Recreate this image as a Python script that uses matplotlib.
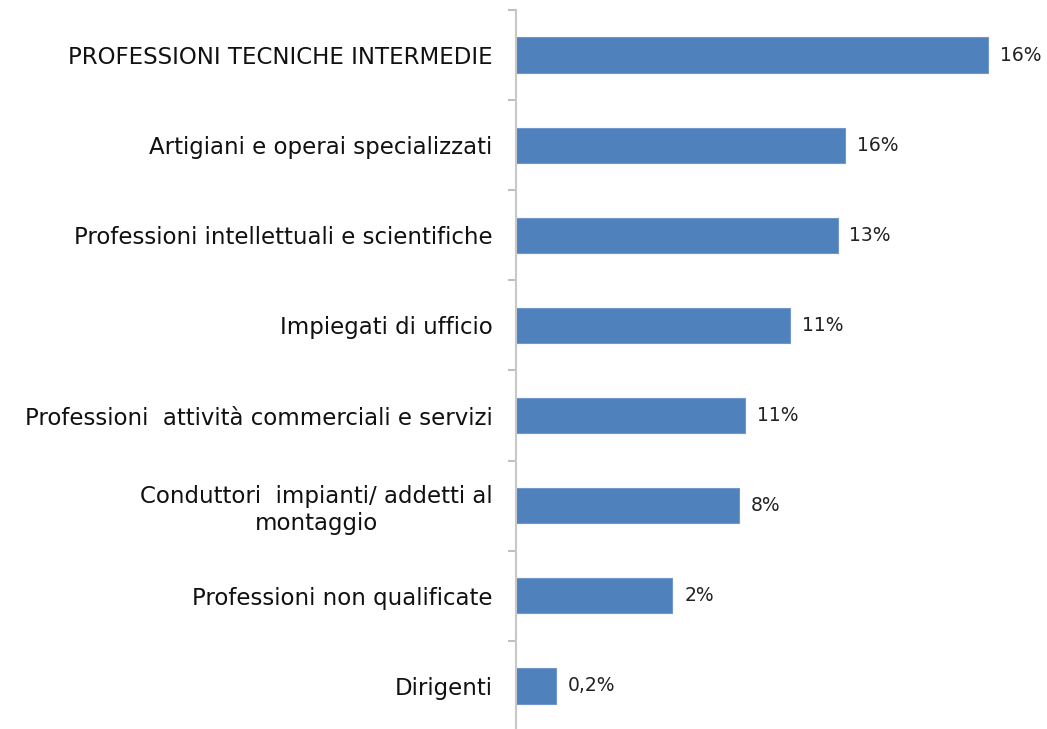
import matplotlib
matplotlib.use("Agg")
import matplotlib.pyplot as plt
import numpy as np

categories = [
    "PROFESSIONI TECNICHE INTERMEDIE",
    "Artigiani e operai specializzati",
    "Professioni intellettuali e scientifiche",
    "Impiegati di ufficio",
    "Professioni  attività commerciali e servizi",
    "Conduttori  impianti/ addetti al\nmontaggio",
    "Professioni non qualificate",
    "Dirigenti",
]
values = [15.85, 11.05, 10.8, 9.2, 7.7, 7.5, 5.25, 1.35]
value_labels = ["16%", "16%", "13%", "11%", "11%", "8%", "2%", "0,2%"]

plt.rcParams['font.family'] = ['DejaVu Sans']

fig = plt.figure(figsize=(10.47, 7.29), dpi=100)
ax = fig.add_axes([516/1047, 1 - 731/729, 524/1047, 721/729])

y = np.arange(len(categories))
ax.barh(y, values, height=0.39, color="#4f81bd", edgecolor="#6f97cc", linewidth=0.8)

for yi, v, lab in zip(y, values, value_labels):
    ax.text(v + 0.4, yi, lab, va="center", ha="left", fontsize=13.5, color="#222222")

ax.set_xlim(0, 17.6)
ax.set_ylim(len(categories) - 0.5, -0.5)
ax.set_yticks(y)
ax.set_yticklabels(categories, fontsize=16.5, color="#111111", ha="right",
                   multialignment="center")
ax.set_yticks(np.arange(len(categories) + 1) - 0.5, minor=True)
ax.tick_params(axis="y", which="major", length=0, pad=17)
ax.tick_params(axis="y", which="minor", length=6, width=1.5, color="#c0c0c0")
ax.set_xticks([])
for side in ["top", "right", "bottom"]:
    ax.spines[side].set_visible(False)
ax.spines["left"].set_color("#c8c8c8")
ax.spines["left"].set_linewidth(1.5)

fig.savefig("out.png", dpi=100)
